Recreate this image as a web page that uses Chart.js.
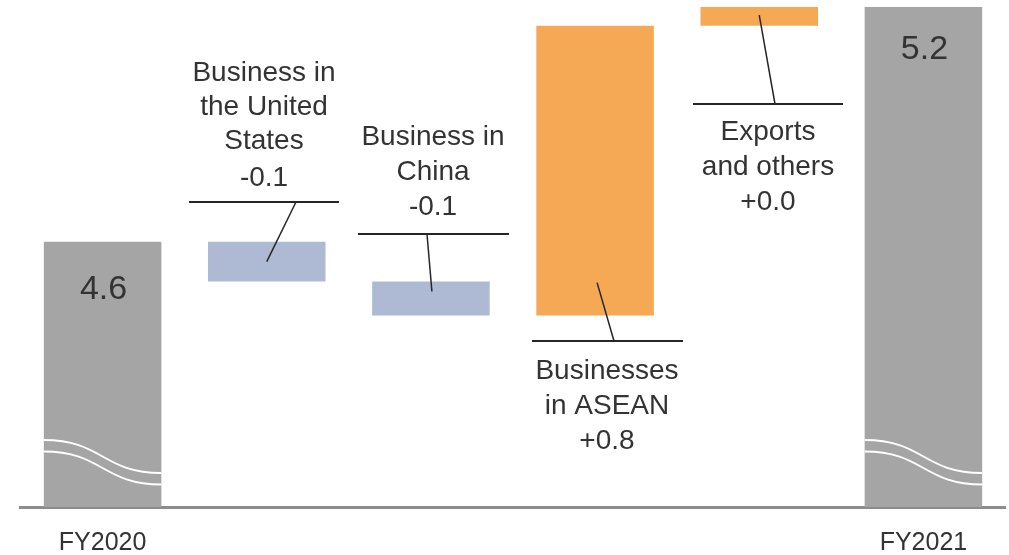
<!DOCTYPE html>
<html>
<head>
<meta charset="utf-8">
<script src="https://cdn.jsdelivr.net/npm/chart.js@4.4.0/dist/chart.umd.min.js"></script>
<style>
    html, body { margin: 0; padding: 0; background: #fff; }
    #wrap { width: 1009px; height: 555px; }
</style>
</head>
<body>
<div id="wrap"><canvas id="waterfall"></canvas></div>
<script>
/* ==========================================================
   Waterfall: FY2020 -> FY2021 (trillion yen)
========================================================== */

// Chart data
const categories = ["FY2020", "Business in the United States", "Business in China", "Businesses in ASEAN", "Exports and others", "FY2021"];
const tickLabels = ["FY2020", "", "", "", "", "FY2021"];
const startValue = 4.60;
const deltas = [-0.105, -0.09, 0.765, 0.05];
const endValue = 5.22;
const totalLabels = ["4.6", "5.2"];
const deltaLabels = ["-0.1", "-0.1", "+0.8", "+0.0"];
const calloutText = [
    ["Business in", "the United", "States"],
    ["Business in", "China"],
    ["Businesses", "in ASEAN"],
    ["Exports", "and others"]
];
const axisMin = 3.9;

const FONT = "'Liberation Sans', Arial, sans-serif";
const TEXT_COLOR = "#333333";

// Build floating bars: totals are plain values (drawn from the axis), steps are [from, to]
function buildBars() {
    const bars = [startValue];
    let running = startValue;
    deltas.forEach(d => {
        bars.push([running, running + d]);
        running += d;
    });
    bars.push(endValue);
    return bars;
}

// Callout placement (pixels) for each step bar
const calloutLayout = [
    { ruleY: 202, ruleX: [189, 339], textX: 264, baselines: [81, 115, 149, 186], leaderX: 296, dx: 0, dy: 0 },
    { ruleY: 234, ruleX: [358, 509], textX: 433, baselines: [145, 180, 215], leaderX: 427, dx: 1, dy: -7 },
    { ruleY: 341, ruleX: [532, 683], textX: 607, baselines: [379, 414, 449], leaderX: 614, dx: 2, dy: 112 },
    { ruleY: 104, ruleX: [693, 843], textX: 768, baselines: [140, 175, 210], leaderX: 775, dx: 0, dy: -1 }
];

const decorPlugin = {
    id: "decor",
    afterDatasetsDraw(chart) {
        const ctx = chart.ctx;
        const meta = chart.getDatasetMeta(0);
        const area = chart.chartArea;
        const totalIdx = [0, categories.length - 1];

        ctx.save();

        // axis-break waves and value labels on the total bars
        totalIdx.forEach((idx, n) => {
            const bar = meta.data[idx];
            const half = bar.width / 2;
            const x0 = bar.x - half, x1 = bar.x + half;
            ctx.strokeStyle = "#ffffff";
            ctx.lineWidth = 2;
            [0, 11.5].forEach(off => {
                const y0 = area.bottom - 67 + off, y1 = area.bottom - 34 + off;
                ctx.beginPath();
                ctx.moveTo(x0, y0);
                ctx.bezierCurveTo(bar.x, y0, bar.x, y1, x1, y1);
                ctx.stroke();
            });

            ctx.fillStyle = TEXT_COLOR;
            ctx.font = "34px " + FONT;
            ctx.textAlign = "center";
            ctx.textBaseline = "middle";
            ctx.fillText(totalLabels[n], bar.x + 1, bar.y + (n === 0 ? 48 : 43));
        });

        // callouts for the step bars
        calloutLayout.forEach((c, i) => {
            const bar = meta.data[i + 1];
            const ax = bar.x + c.dx;
            const ay = (bar.y + bar.base) / 2 + c.dy;

            ctx.strokeStyle = "#262626";
            ctx.lineWidth = 2;
            ctx.beginPath();
            ctx.moveTo(c.ruleX[0], c.ruleY);
            ctx.lineTo(c.ruleX[1], c.ruleY);
            ctx.stroke();

            ctx.lineWidth = 1.5;
            ctx.beginPath();
            ctx.moveTo(c.leaderX, c.ruleY);
            ctx.lineTo(ax, ay);
            ctx.stroke();

            const lines = calloutText[i].concat(deltaLabels[i]);
            ctx.fillStyle = TEXT_COLOR;
            ctx.font = "28px " + FONT;
            ctx.textAlign = "center";
            ctx.textBaseline = "alphabetic";
            lines.forEach((t, k) => ctx.fillText(t, c.textX, c.baselines[k]));
        });

        ctx.restore();
    }
};

new Chart(document.getElementById("waterfall"), {
    type: "bar",
    data: {
        labels: categories,
        datasets: [{
            data: buildBars(),
            backgroundColor: ["#a5a5a5", "#aeb9d4", "#aeb9d4", "#f5a955", "#f5a955", "#a5a5a5"],
            borderWidth: 0,
            categoryPercentage: 1,
            barPercentage: 0.716
        }]
    },
    options: {
        responsive: true,
        maintainAspectRatio: false,
        animation: false,
        layout: { padding: { left: 20.5, right: 3.5, top: 6.7, bottom: 1 } },
        plugins: {
            legend: { display: false },
            tooltip: { enabled: false }
        },
        scales: {
            x: {
                grid: { display: false, drawTicks: false, tickLength: 0 },
                border: { display: true, color: "#8c8c8c", width: 3 },
                ticks: {
                    color: TEXT_COLOR,
                    padding: 24,
                    maxRotation: 0,
                    autoSkip: false,
                    font: { family: FONT, size: 25, lineHeight: 1 },
                    callback: (v, i) => tickLabels[i]
                },
                afterFit: scale => { scale.height = 47; }
            },
            y: {
                display: false,
                min: axisMin,
                max: endValue
            }
        }
    },
    plugins: [decorPlugin]
});
</script>
</body>
</html>
